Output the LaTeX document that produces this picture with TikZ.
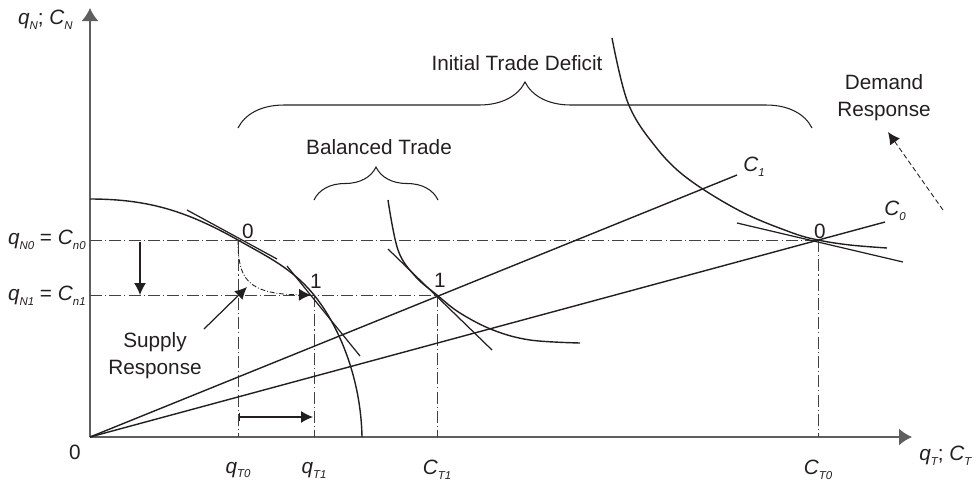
\documentclass[tikz,border=0pt]{standalone}
\usepackage{fontspec}
\setmainfont{Liberation Sans}
\usetikzlibrary{arrows.meta,decorations.pathreplacing}
\definecolor{axgray}{RGB}{95,95,95}
\definecolor{inkdark}{RGB}{35,31,32}
\newcommand{\sbs}[1]{\raisebox{-0.45ex}{\fontsize{6.5}{7}\selectfont\itshape #1}}
\newcommand{\qvar}[2]{\textit{#1}\sbs{#2}}
\tikzset{
  axis/.style={-{Latex[length=2.6mm,width=3.4mm]}, axgray, line width=1pt},
  crv/.style={inkdark, line width=0.8pt},
  tanln/.style={inkdark, line width=0.7pt},
  guide/.style={inkdark!85, line width=0.5pt, dash pattern=on 6.8pt off 1.8pt on 0.6pt off 1.8pt},
  shiftarr/.style={-{Latex[length=2.4mm,width=2.4mm]}, inkdark, line width=0.7pt},
  resp/.style={inkdark, line width=0.5pt, dash pattern=on 2.8pt off 1.1pt on 0.5pt off 1.1pt},
  brc/.style={decorate, decoration={brace, amplitude=#1}, inkdark, line width=0.6pt},
  lab/.style={font=\fontsize{11.8}{15.5}\selectfont, text=inkdark, inner sep=0pt, align=center},
}
\begin{document}
\begin{tikzpicture}[x=0.02cm, y=-0.02cm]
  \useasboundingbox (0,0) rectangle (977,488);
  % key points
  \coordinate (O) at (90,437);
  \coordinate (P0) at (238,240);
  \coordinate (P1) at (314,295);
  \coordinate (Q1) at (437,295);
  \coordinate (Q0) at (818,240);
  % axes
  \coordinate (ytop) at (90,8);
  \coordinate (xend) at (912,437);
  \draw[axis] (O) -- (ytop);
  \draw[axis] (O) -- (xend);
  \node[lab, anchor=east] (ylab) at (73,20) {\qvar{q}{N}; \qvar{C}{N}};
  \node[lab, anchor=west] (xlab) at (919,456) {\qvar{q}{T}; \qvar{C}{T}};
  \node[lab] (orig) at (75,452) {0};
  % guide lines
  \draw[guide] (O |- P0) -- (Q0);
  \draw[guide] (O |- P1) -- (Q1);
  \draw[guide] (P0) -- (P0 |- O);
  \draw[guide] (P1) -- (P1 |- O);
  \draw[guide] (Q1) -- (Q1 |- O);
  \draw[guide] (Q0) -- (Q0 |- O);
  \node[lab, anchor=east] (qn0) at (86,240) {\qvar{q}{N0} = \qvar{C}{n0}};
  \node[lab, anchor=east] (qn1) at (86,296) {\qvar{q}{N1} = \qvar{C}{n1}};
  \node[lab] (qt0) at (238,470) {\qvar{q}{T0}};
  \node[lab] (qt1) at (314,470) {\qvar{q}{T1}};
  \node[lab] (ct1) at (437,470) {\qvar{C}{T1}};
  \node[lab] (ct0) at (818,470) {\qvar{C}{T0}};
  % production frontier
  \draw[crv] (90,199) .. controls (150,199) and (188,212) .. (P0)
             .. controls (266,256) and (292,268) .. (P1)
             .. controls (340,327) and (361,380) .. (362,437);
  \draw[tanln] (187,210) -- (277,259);
  \draw[tanln] (287,266) -- (360,356);
  \node[lab] (p0lab) at (248,231) {0};
  \node[lab] (p1lab) at (316,281) {1};
  % consumption rays
  \coordinate (c1end) at (737,175);
  \coordinate (c0end) at (885,222);
  \draw[crv] (O) -- (c1end);
  \draw[crv] (O) -- (c0end);
  \node[lab] (c1lab) at (754,167) {\qvar{C}{1}};
  \node[lab] (c0lab) at (895,211) {\qvar{C}{0}};
  % indifference curves
  \draw[crv] plot[smooth, tension=0.6] coordinates {(388,200) (398,250) (415,276) (Q1) (460,313) (493,330) (530,340) (580,343)};
  \draw[tanln] (388,249) -- (492,350);
  \node[lab] (q1lab) at (440,280) {1};
  \draw[crv] plot[smooth, tension=0.6] coordinates {(612,38) (628,103) (655,146) (687,178) (740,211) (790,232) (Q0) (850,245) (887,248)};
  \draw[tanln] (737,223) -- (903,262);
  \node[lab] (q0lab) at (820,231) {0};
  % shifts
  \draw[shiftarr] (140,242) -- (140,295);
  \draw[shiftarr, {Bar[width=1.6mm]}-{Latex[length=2.4mm,width=2.4mm]}] (239,417) -- (313,417);
  \draw[resp, -{Latex[length=2.4mm,width=2.4mm]}] (P0) .. controls (238,278) and (246,294) .. (311,295);
  \coordinate (srtail) at (204,329);
  \coordinate (srtip) at (247,287);
  \draw[shiftarr] (srtail) -- (srtip);
  \node[lab] (srlab) at (155,356) {Supply\\Response};
  \coordinate (drtail) at (943,210);
  \coordinate (drtip) at (888,132);
  \draw[-{Latex[length=2.4mm,width=2.4mm]}, inkdark, line width=0.5pt, dash pattern=on 2.8pt off 1.7pt] (drtail) -- (drtip);
  \node[lab] (drlab) at (884,98) {Demand\\Response};
  % braces
  \draw[brc=0.92cm] (238,128) -- (812,128);
  \node[lab] (itd) at (517,63) {Initial Trade Deficit};
  \draw[brc=0.66cm] (314,200) -- (438,200);
  \node[lab] (bt) at (379,147) {Balanced Trade};
\end{tikzpicture}
\end{document}
